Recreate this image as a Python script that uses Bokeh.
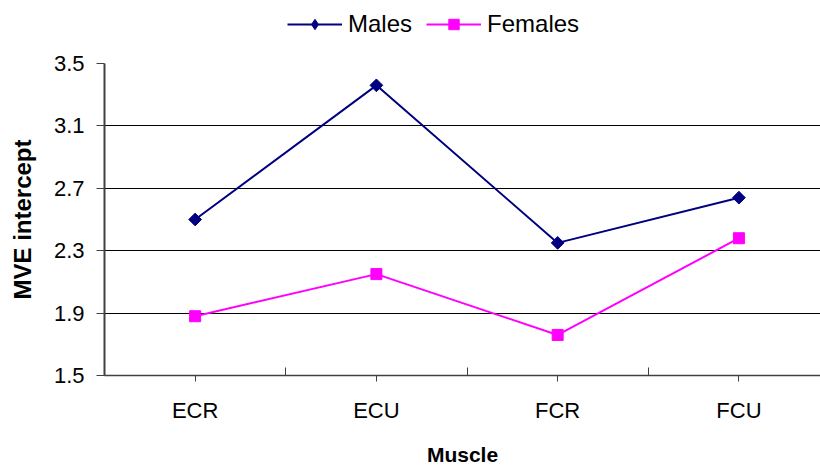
import numpy as np
from bokeh.plotting import figure
from bokeh.layouts import column
from bokeh.models import Range1d, FixedTicker, Legend, LegendItem, Grid
from bokeh.embed import file_html
from bokeh.resources import INLINE

# ---- data ----
muscles = ["ECR", "ECU", "FCR", "FCU"]
males = [2.50, 3.36, 2.35, 2.64]
females = [1.88, 2.15, 1.76, 2.38]
y_ticks = [1.5, 1.9, 2.3, 2.7, 3.1, 3.5]

FONT = "Liberation Sans"
MALE_C = "#000080"
FEMALE_C = "#FF00FF"
xpos = [i + 0.5 for i in range(len(muscles))]
xbounds = [float(i) for i in range(len(muscles))]

p = figure(width=820, height=420, output_backend="svg", toolbar_location=None,
           x_range=Range1d(0, 3.95), y_range=Range1d(y_ticks[0], y_ticks[-1]),
           min_border_left=104, min_border_right=0, min_border_top=15,
           min_border_bottom=80)
p.outline_line_color = None
p.xgrid.visible = False
p.ygrid.visible = False

g1 = Grid(dimension=1, ticker=FixedTicker(ticks=y_ticks[1:-1]),
          grid_line_color="black", grid_line_width=1)
g2 = Grid(dimension=1, ticker=FixedTicker(ticks=[y_ticks[-1]]),
          grid_line_color="#8c8c8c", grid_line_width=2)
p.add_layout(g1)
p.add_layout(g2)

def draw(fig, xs, ys_m, ys_f, male_marker="square", male_angle=np.pi / 4, male_size=9):
    lm = fig.line(xs, ys_m, line_color=MALE_C, line_width=2)
    sm = fig.scatter(xs, ys_m, marker=male_marker, angle=male_angle, size=male_size,
                     fill_color=MALE_C, line_color=MALE_C)
    lf = fig.line(xs, ys_f, line_color=FEMALE_C, line_width=2)
    sf = fig.scatter(xs, ys_f, marker="square", size=11,
                     fill_color=FEMALE_C, line_color=FEMALE_C)
    return lm, sm, lf, sf

draw(p, xpos, males, females)

# y axis
ya = p.yaxis[0]
ya.ticker = FixedTicker(ticks=y_ticks)
ya.axis_label = "MVE intercept"
ya.axis_label_text_font = FONT
ya.axis_label_text_font_style = "bold"
ya.axis_label_text_font_size = "24px"
ya.axis_label_text_color = "black"
ya.axis_label_standoff = 15
ya.major_label_text_font = FONT
ya.major_label_text_font_size = "22px"
ya.major_label_text_color = "black"
ya.major_label_standoff = 12
ya.major_tick_in = 0
ya.major_tick_out = 8
ya.minor_tick_line_color = None
ya.axis_line_color = "#404040"
ya.axis_line_width = 2
ya.major_tick_line_color = "#404040"

# x axis
xa = p.xaxis[0]
xa.ticker = FixedTicker(ticks=xpos, minor_ticks=xbounds)
xa.major_label_overrides = {x: m for x, m in zip(xpos, muscles)}
xa.axis_label = "Muscle"
xa.axis_label_text_font = FONT
xa.axis_label_text_font_style = "bold"
xa.axis_label_text_font_size = "21px"
xa.axis_label_text_color = "black"
xa.axis_label_standoff = 17
xa.major_label_text_font = FONT
xa.major_label_text_font_size = "22px"
xa.major_label_text_color = "black"
xa.major_label_standoff = 16
xa.major_tick_in = 0
xa.major_tick_out = 6
xa.minor_tick_in = 8
xa.minor_tick_out = 0
xa.minor_tick_line_color = "#404040"
xa.major_tick_line_color = "#404040"
xa.axis_line_color = "#404040"
xa.axis_line_width = 1.5

# legend strip above the plot
lg = figure(width=820, height=48, output_backend="svg", toolbar_location=None,
            x_range=Range1d(0, 1), y_range=Range1d(0, 1),
            x_axis_location=None, y_axis_location=None,
            min_border=0)
lg.outline_line_color = None
lg.grid.visible = False
lm, sm, lf, sf = draw(lg, [np.nan], [np.nan], [np.nan],
                      male_marker="diamond", male_angle=0, male_size=16)
legend = Legend(items=[LegendItem(label="Males", renderers=[lm, sm]),
                       LegendItem(label="Females", renderers=[lf, sf])],
                orientation="horizontal", location=(183, 10),
                border_line_color=None, background_fill_alpha=0,
                label_text_font=FONT, label_text_font_size="24px",
                label_text_color="black",
                glyph_width=55, glyph_height=26, spacing=14, padding=0,
                margin=0, label_standoff=6)
lg.add_layout(legend)

layout = column(lg, p, spacing=0)
open("out.html", "w").write(file_html(layout, INLINE))
